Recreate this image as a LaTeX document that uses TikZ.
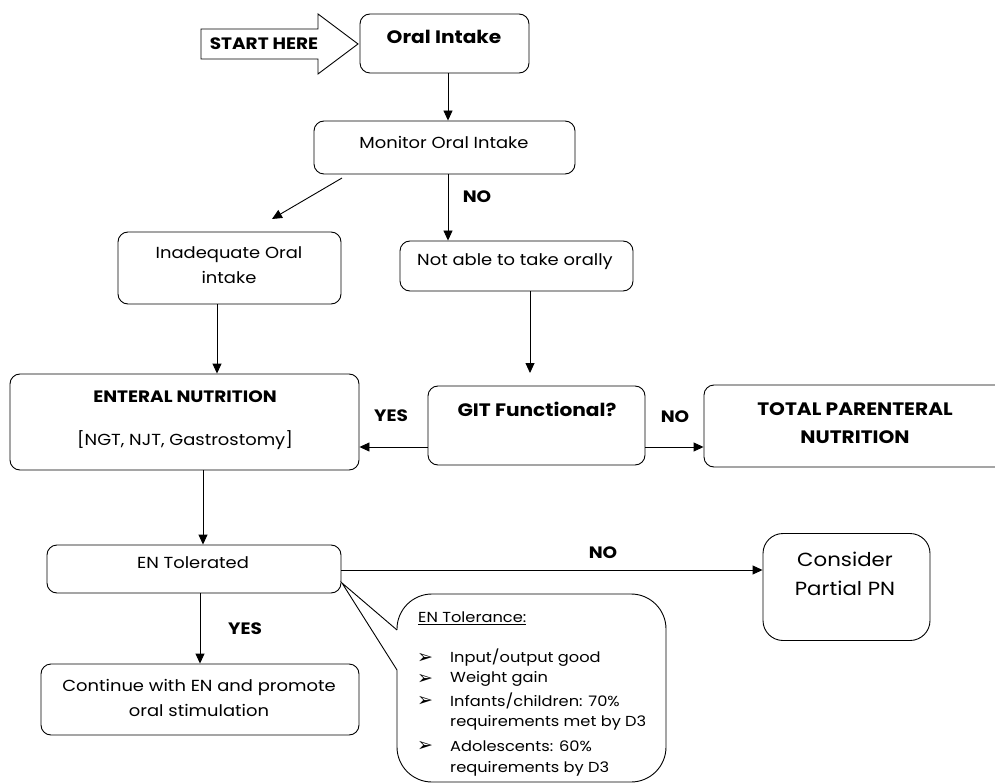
\documentclass[tikz,border=0pt]{standalone}
\usepackage{fontspec}
\setmainfont[FakeStretch=1.12]{Poppins}
\newfontfamily\symfont{DejaVu Sans}
\usetikzlibrary{arrows.meta}

\begin{document}
\begin{tikzpicture}[x=1pt,y=-1pt,
  box/.style={draw, line width=0.9pt, rounded corners=10pt, inner sep=0pt},
  txt/.style={inner sep=0pt, align=center, font=\fontsize{16}{25}\selectfont},
  btxt/.style={inner sep=0pt, align=center, font=\fontsize{16.5}{28}\selectfont\bfseries},
  bigb/.style={inner sep=0pt, align=center, font=\fontsize{18}{28}\selectfont\bfseries},
  small/.style={inner sep=0pt, anchor=west, font=\fontsize{14.5}{22}\selectfont},
  bullet/.style={inner sep=0pt, anchor=west, font=\symfont\fontsize{19}{20}\selectfont},
  arr/.style={line width=0.9pt, -{Triangle[length=10pt,width=9pt]}}]

\clip (0,0) rectangle (995,783);
\fill[white] (0,0) rectangle (995,783);

% start marker
\draw[line width=0.9pt] (201,29) -- (318,29) -- (318,14) -- (358,44) -- (318,74) -- (318,59) -- (201,59) -- cycle;
\node[btxt] (start) at (264,44) {START HERE};

% boxes
\node[box, minimum width=169pt, minimum height=59pt] (oral) at (444.5,43.5) {};
\node[bigb] (oralT) at (444,37) {Oral Intake};

\node[box, minimum width=261pt, minimum height=53pt] (mon) at (444.5,147.5) {};
\node[txt] (monT) at (444,142) {Monitor Oral Intake};

\node[box, minimum width=223pt, minimum height=72pt] (inad) at (229.5,268) {};
\node[txt] (inadT) at (229,265.5) {Inadequate Oral\\intake};

\node[box, minimum width=233pt, minimum height=50pt] (notab) at (516.5,266) {};
\node[txt] (notabT) at (515,262) {Not able to take orally};

\node[box, minimum width=349pt, minimum height=96pt] (ent) at (184.5,422) {};
\node[btxt] (entT) at (185,397) {ENTERAL NUTRITION};
\node[txt] (entS) at (185,440) {[NGT, NJT, Gastrostomy]};

\node[box, minimum width=217pt, minimum height=79pt] (git) at (536.5,425.5) {};
\node[bigb] (gitT) at (537,409) {GIT Functional?};

\node[box, minimum width=320pt, minimum height=82pt] (tpn) at (864,426) {};
\node[bigb] (tpnT) at (855,423) {TOTAL PARENTERAL\\NUTRITION};

\node[box, minimum width=294pt, minimum height=48pt] (tol) at (194,569) {};
\node[txt] (tolT) at (193,563) {EN Tolerated};

\node[box, rounded corners=20pt, minimum width=167pt, minimum height=107pt] (cons) at (846.5,587) {};
\node[inner sep=0pt, align=center, font=\fontsize{19}{29}\selectfont] (consT) at (845,573.5) {Consider\\Partial PN};

\node[box, minimum width=318pt, minimum height=71pt] (cont) at (200,699.5) {};
\node[txt] (contT) at (199,698) {Continue with EN and promote\\oral stimulation};

% tolerance callout
\node[box, rounded corners=35pt, minimum width=269pt, minimum height=188pt] (call) at (531.5,688) {};
\coordinate (calltip) at (342,583);
\coordinate (callA) at (397,630);
\coordinate (callB) at (397,670);
\fill[white] (calltip) -- (callA) -- (399,630) -- (399,670) -- (callB) -- cycle;
\draw[line width=0.9pt] (callA) -- (calltip) -- (callB);

\node[small] (h0) at (418,618) {\underline{EN Tolerance:}};
\foreach \yy/\nm in {658/b1, 679/b2, 701/b3, 746/b4}
  \node[bullet] (\nm) at (417,\yy) {➢};
\node[small] (l1) at (450,658) {Input/output good};
\node[small] (l2) at (450,679) {Weight gain};
\node[small] (l3) at (450,701) {Infants/children: 70\%};
\node[small] (l4) at (450,723) {requirements met by D3};
\node[small] (l5) at (450,746) {Adolescents: 60\%};
\node[small] (l6) at (450,769) {requirements by D3};

% connectors
\draw[arr] (oral.south -| 448,0) -- (mon.north -| 448,0);
\coordinate (dgA) at (342,178);
\coordinate (dgB) at (272,219);
\draw[arr] (dgA) -- (dgB);
\draw[arr] (mon.south -| 448,0) -- (notab.north -| 448,0);
\draw[arr] (inad.south -| 217,0) -- (ent.north -| 217,0);
\coordinate (gitIn) at (530,373);
\draw[arr] (notab.south -| gitIn) -- (gitIn);
\draw[arr] (git.west |- 0,447) -- (ent.east |- 0,447);
\draw[arr] (git.east |- 0,447) -- (tpn.west |- 0,447);
\draw[arr] (ent.south -| 203,0) -- (tol.north -| 203,0);
\draw[arr] (tol.east |- 0,570) -- (cons.west |- 0,570);
\draw[arr] (tol.south -| 200,0) -- (cont.north -| 200,0);

% branch labels
\node[btxt] (noA) at (477,197) {NO};
\node[btxt] (yesA) at (391,416) {YES};
\node[btxt] (noB) at (675,417) {NO};
\node[btxt] (noC) at (603,553) {NO};
\node[btxt] (yesB) at (245,629) {YES};
\end{tikzpicture}
\end{document}
